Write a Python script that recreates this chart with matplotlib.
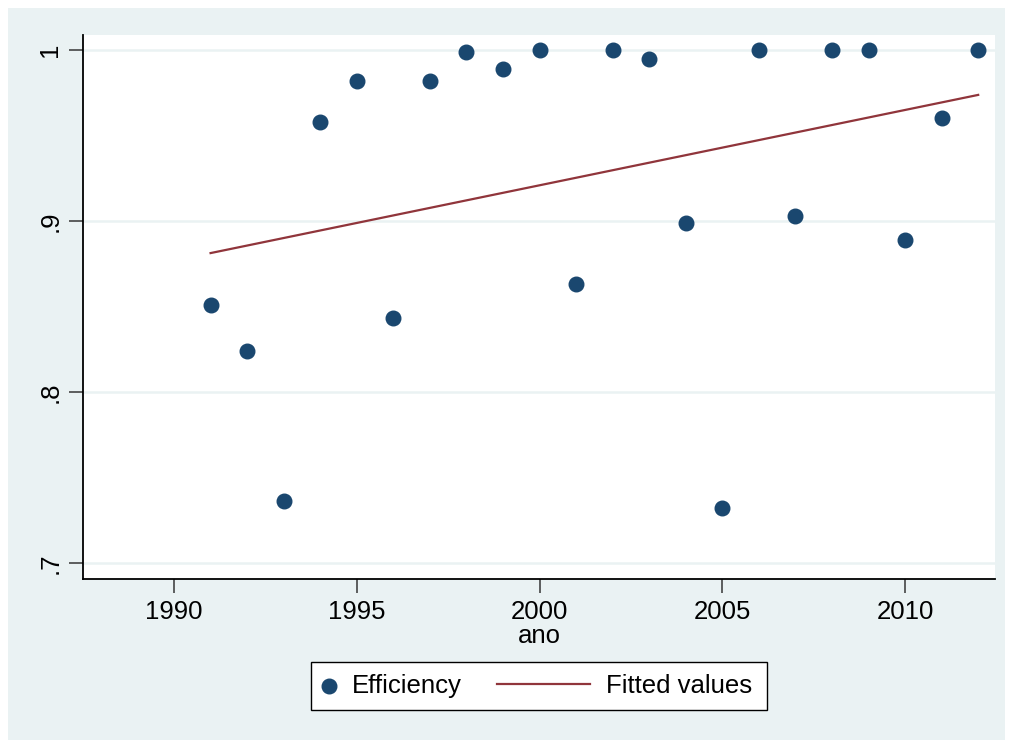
import numpy as np
import matplotlib
matplotlib.use('Agg')
import matplotlib.pyplot as plt
from matplotlib.patches import Rectangle

plt.rcParams['font.family'] = ['Liberation Sans', 'DejaVu Sans']

ano = [1991, 1992, 1993, 1994, 1995, 1996, 1997, 1998, 1999, 2000, 2001,
       2002, 2003, 2004, 2005, 2006, 2007, 2008, 2009, 2010, 2011, 2012]
efficiency = [0.851, 0.824, 0.736, 0.958, 0.982, 0.843, 0.982, 0.999, 0.989, 1.0, 0.863,
              1.0, 0.995, 0.899, 0.732, 1.0, 0.903, 1.0, 1.0, 0.889, 0.960, 1.0]
xticks = [1990, 1995, 2000, 2005, 2010]
yticks = [0.7, 0.8, 0.9, 1.0]
ylabels = ['.7', '.8', '.9', '1']

# linear fit, like stata's lfit
slope, icpt = np.polyfit(ano, efficiency, 1)
fitted = [slope * a + icpt for a in ano]

fs = 18.5
fig = plt.figure(figsize=(10.1, 7.4), dpi=100)
fig.patch.set_facecolor('white')
fig.patches.append(Rectangle((8 / 1010, 0), 997 / 1010, 732 / 740,
                             transform=fig.transFigure, facecolor='#EAF2F3',
                             edgecolor='none', zorder=-10))

ax = fig.add_axes([83 / 1010, 1 - 579 / 740, 912 / 1010, 544 / 740])
ax.set_facecolor('white')

for yt in yticks:
    ax.axhline(yt, color='#EAF2F3', lw=1.8, zorder=0)

pts = ax.scatter(ano, efficiency, s=110, color='#1A476F', zorder=3, label='Efficiency')
ln, = ax.plot(ano, fitted, color='#90353B', lw=1.6, zorder=2, label='Fitted values')

ax.set_xlim(1987.51, 2012.46)
ax.set_ylim(0.6906, 1.0088)
ax.set_xticks(xticks)
ax.set_yticks(yticks)
ax.set_yticklabels(ylabels, rotation=90, va='center')
ax.tick_params(axis='both', labelsize=fs, length=10, width=1.2, color='#444444', pad=5)
ax.set_xlabel('ano', fontsize=fs, labelpad=0)

for s in ['top', 'right']:
    ax.spines[s].set_visible(False)
for s in ['left', 'bottom']:
    ax.spines[s].set_linewidth(1.3)
    ax.spines[s].set_color('black')

# legend: box plus two entries, stata style
ly = 1 - 686 / 740
fig.patches.append(Rectangle((311 / 1010, 1 - 710 / 740), 456 / 1010, 48 / 740,
                             transform=fig.transFigure, facecolor='white',
                             edgecolor='black', lw=1.0, zorder=1))
leg1 = fig.legend(handles=[pts], loc='center left', bbox_to_anchor=(316 / 1010, ly),
                  fontsize=fs, frameon=False, handlelength=1, handletextpad=0.4,
                  borderpad=0, borderaxespad=0, scatterpoints=1)
leg2 = fig.legend(handles=[ln], loc='center left', bbox_to_anchor=(497 / 1010, ly),
                  fontsize=fs, frameon=False, handlelength=3.6, handletextpad=0.65,
                  borderpad=0, borderaxespad=0)
leg1.set_zorder(5)
leg2.set_zorder(5)

fig.savefig('out.png', dpi=100)
